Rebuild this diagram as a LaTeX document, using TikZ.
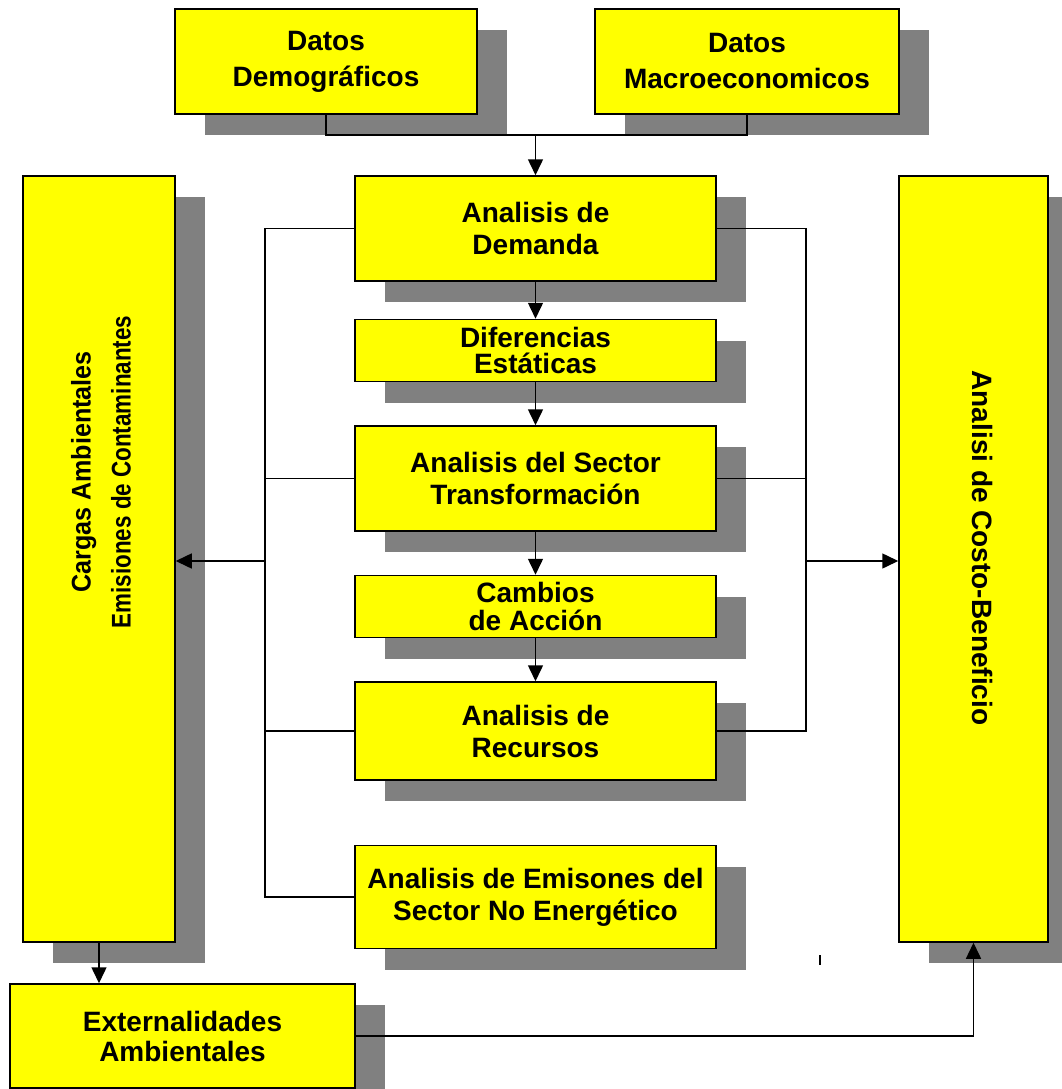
\documentclass[tikz,border=0pt]{standalone}
\usepackage{fontspec}
\usepackage{graphicx}
\setmainfont{Liberation Sans}
\usetikzlibrary{arrows.meta, positioning, shadows, calc}
\definecolor{boxyellow}{RGB}{255,255,0}
\definecolor{shadowgray}{RGB}{128,128,128}

\begin{document}
\begin{tikzpicture}[x=1pt, y=-1pt,
  box/.style={draw, line width=1.5pt, fill=boxyellow, inner sep=0pt, align=center,
    font=\bfseries\fontsize{28}{32}\selectfont,
    drop shadow={shadow xshift=30pt, shadow yshift=-21pt, fill=shadowgray, opacity=1}},
  colbox/.style={box, minimum width=361pt},
  tallbox/.style={box, minimum height=766pt},
  arr/.style={-{Triangle[length=16pt, width=15pt]}, line width=1.5pt},
  lnk/.style={line width=1.5pt},
]
\clip (0,0) rectangle (1062,1089);
% Input data
\node[box, minimum width=302pt, minimum height=105pt, font=\bfseries\fontsize{28}{36}\selectfont] (dd) at (326,61.5) {Datos\\Demográficos};
\node[box, minimum width=304pt, minimum height=105pt, font=\bfseries\fontsize{28}{36}\selectfont] (dm) at (747,61.5) {Datos\\Macroeconomicos};
% Central column
\node[colbox, minimum height=105pt] (dem) at (535.5,228.5) {Analisis de\\Demanda};
\node[colbox, minimum height=62pt, below=37pt of dem, font=\bfseries\fontsize{28}{26}\selectfont] (dif) {Diferencias\\Estáticas};
\node[colbox, minimum height=105pt, below=43pt of dif] (tra) {Analisis del Sector\\Transformación};
\node[colbox, minimum height=62pt, below=43pt of tra, font=\bfseries\fontsize{28}{28}\selectfont] (cam) {Cambios\\de Acción};
\node[colbox, minimum height=98pt, below=43pt of cam] (rec) {Analisis de\\Recursos};
\node[colbox, minimum height=103pt, below=64pt of rec] (emi) {Analisis de Emisones del\\Sector No Energético};
% Side boxes (rotated texts)
\node[tallbox, minimum width=152pt] (cargas) at (99,559) {};
\node[rotate=90, align=center, font=\bfseries\fontsize{27}{40}\selectfont] (cargastxt) at (101,472)
  {\scalebox{0.93}[1]{Cargas Ambientales}\\\scalebox{0.83}[1]{Emisiones de Contaminantes}};
\node[tallbox, minimum width=149pt] (costo) at (973.5,559) {};
\node[rotate=-90, font=\bfseries\fontsize{28}{32}\selectfont] (costotxt) at (982,548) {Analisi de Costo-Beneficio};
% Externalities
\node[box, minimum width=345pt, minimum height=104pt, font=\bfseries\fontsize{28}{30}\selectfont] (ext) at (182.5,1036) {Externalidades\\Ambientales};

% Junctions
\coordinate (tj) at (535.5,135);
\coordinate (lj) at (265,561);
\coordinate (rj) at (806,561);

% Data into demand
\draw[lnk] (dd.south) |- (tj) -| (dm.south);
\draw[arr] (tj) -- (dem.north);
% Down the column
\draw[arr] (dem.south) -- (dif.north);
\draw[arr] (dif.south) -- (tra.north);
\draw[arr] (tra.south) -- (cam.north);
\draw[arr] (cam.south) -- (rec.north);
% Left bus
\draw[lnk] (dem.west) -| (lj) |- (emi.west);
\draw[lnk] (tra.west) -- (tra.west -| lj);
\draw[lnk] (rec.west) -- (rec.west -| lj);
\draw[arr] (lj) -- (lj -| cargas.east);
% Right bus
\draw[lnk] (dem.east) -| (rj) |- (rec.east);
\draw[lnk] (tra.east) -- (tra.east -| rj);
\draw[arr] (rj) -- (rj -| costo.west);
% Bottom
\draw[arr] (cargas.south) -- (cargas.south |- ext.north);
\draw[arr] (ext.east) -| (costo.south);
\draw[line width=1.2pt] (820,955) -- (820,965);
\end{tikzpicture}
\end{document}
